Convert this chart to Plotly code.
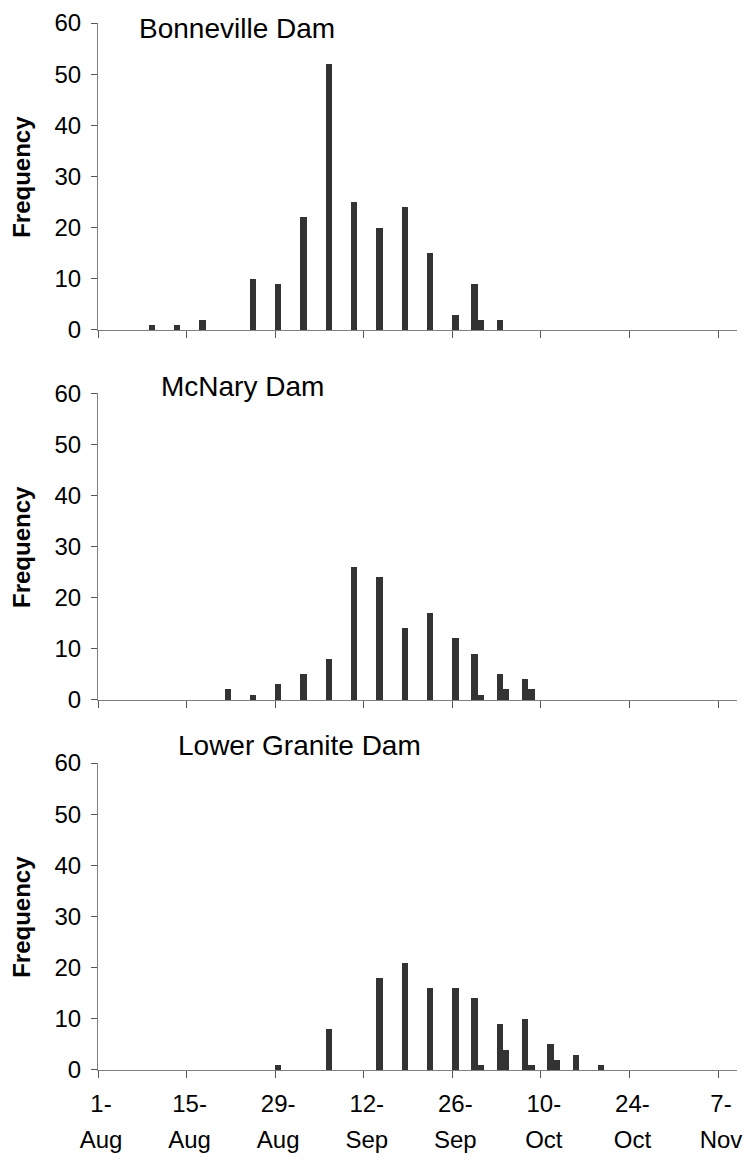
import plotly.graph_objects as go

YEAR = "2000"

# --- data (count of fish per sampling date) ---
bonneville_dates = ["08-09", "08-13", "08-17", "08-25", "08-29", "09-02", "09-06", "09-10",
                    "09-14", "09-18", "09-22", "09-26", "09-29", "09-30", "10-03"]
bonneville_counts = [1, 1, 2, 10, 9, 22, 52, 25, 20, 24, 15, 3, 9, 2, 2]

mcnary_dates = ["08-21", "08-25", "08-29", "09-02", "09-06", "09-10", "09-14", "09-18",
                "09-22", "09-26", "09-29", "09-30", "10-03", "10-04", "10-07", "10-08"]
mcnary_counts = [2, 1, 3, 5, 8, 26, 24, 14, 17, 12, 9, 1, 5, 2, 4, 2]

granite_dates = ["08-29", "09-06", "09-14", "09-18", "09-22", "09-26", "09-29", "09-30",
                 "10-03", "10-04", "10-07", "10-08", "10-11", "10-12", "10-15", "10-19"]
granite_counts = [1, 8, 18, 21, 16, 16, 14, 1, 9, 4, 10, 1, 5, 2, 3, 1]

panel_titles = ["Bonneville Dam", "McNary Dam", "Lower Granite Dam"]

tick_dates = ["08-01", "08-15", "08-29", "09-12", "09-26", "10-10", "10-24", "11-07"]
tick_day_text = ["1-", "15-", "29-", "12-", "26-", "10-", "24-", "7-"]
tick_month_text = ["Aug", "Aug", "Aug", "Sep", "Sep", "Oct", "Oct", "Nov"]

x_range = ["08-01", "11-10"]
y_ticks = [0, 10, 20, 30, 40, 50, 60]

# --- styling ---
FONT = "Liberation Sans, Arial, sans-serif"
BAR_COLOR = "#333333"
LINE_COLOR = "#808080"
DAY_MS = 86400000
TICK_SIZE = 24

def full(d):
    return f"{YEAR}-{d}"

series = [(bonneville_dates, bonneville_counts),
          (mcnary_dates, mcnary_counts),
          (granite_dates, granite_counts)]

fig = go.Figure()
for i, (dates, counts) in enumerate(series):
    n = i + 1
    fig.add_trace(go.Bar(
        x=[full(d) for d in dates], y=counts,
        xaxis=f"x{n}" if n > 1 else "x", yaxis=f"y{n}" if n > 1 else "y",
        xperiod=DAY_MS, xperiodalignment="middle",
        width=1.0 * DAY_MS,
        marker=dict(color=BAR_COLOR, line=dict(width=0)),
        showlegend=False,
    ))

# dummy trace for the month-label overlay axis
fig.add_trace(go.Scatter(x=[], y=[], xaxis="x4", yaxis="y3", showlegend=False))

domains = [[0.7068, 1.0], [0.3534, 0.6463], [0.0, 0.2932]]

xr = [full(x_range[0]), full(x_range[1])]
tickvals = [full(d) for d in tick_dates]

axis_common = dict(
    showline=True, linecolor=LINE_COLOR, linewidth=1,
    ticks="outside", tickcolor="#555555", tickwidth=1,
    showgrid=False, zeroline=False, automargin=False,
    tickfont=dict(family=FONT, size=TICK_SIZE, color="black"),
)

layout = dict(
    width=751, height=1162,
    margin=dict(l=98, r=14, t=23, b=92),
    plot_bgcolor="white", paper_bgcolor="white",
    bargap=0,
)

for i in range(3):
    n = i + 1
    xk = "xaxis" if n == 1 else f"xaxis{n}"
    yk = "yaxis" if n == 1 else f"yaxis{n}"
    ya = "y" if n == 1 else f"y{n}"
    xa = "x" if n == 1 else f"x{n}"
    layout[xk] = dict(axis_common, type="date", range=xr, anchor=ya,
                      tickmode="array", tickvals=tickvals,
                      ticktext=tick_day_text, ticklen=7,
                      showticklabels=(n == 3), ticklabelshift=3,
                      ticklabelstandoff=5)
    layout[yk] = dict(axis_common, range=[0, 60], domain=domains[i], anchor=xa,
                      tickmode="array", tickvals=y_ticks, ticklen=6,
                      ticklabelstandoff=5)

layout["xaxis4"] = dict(type="date", range=xr, overlaying="x3", anchor="y3",
                        showline=False, showgrid=False, zeroline=False, automargin=False,
                        ticks="outside", ticklen=7, tickcolor="rgba(0,0,0,0)",
                        tickmode="array", tickvals=tickvals, ticktext=tick_month_text,
                        ticklabelshift=3, ticklabelstandoff=41,
                        tickfont=dict(family=FONT, size=TICK_SIZE, color="black"))

fig.update_layout(**layout)

# panel titles
title_x = [0.0615, 0.0959, 0.1225]
title_y = [0.995, 0.653, 0.3095]
for t, tx, ty in zip(panel_titles, title_x, title_y):
    fig.add_annotation(text=t, x=tx, y=ty, xref="paper", yref="paper",
                       xanchor="left", yanchor="middle", showarrow=False,
                       font=dict(family=FONT, size=28, color="black"))

# y-axis titles
for d in domains:
    fig.add_annotation(text="<b>Frequency</b>", x=-0.12, y=(d[0] + d[1]) / 2,
                       xref="paper", yref="paper", xanchor="center", yanchor="middle",
                       textangle=-90, showarrow=False,
                       font=dict(family=FONT, size=24, color="black"))

fig.write_html("out.html", config={"displayModeBar": False},
               post_script="document.body.style.margin='0px';")
